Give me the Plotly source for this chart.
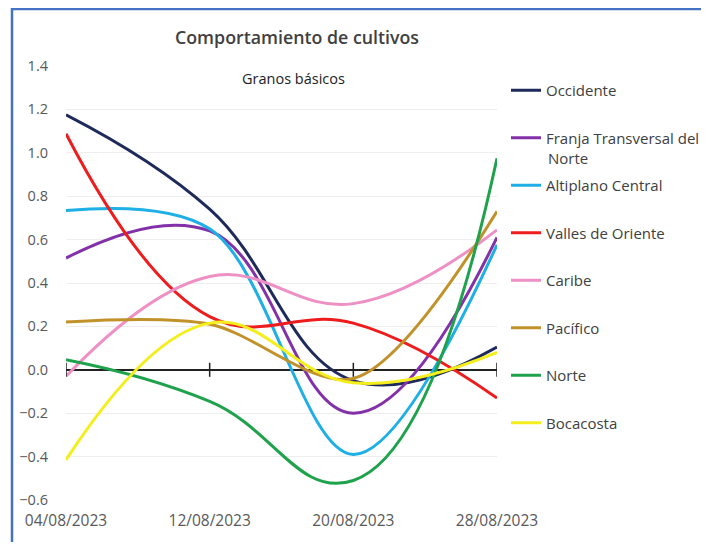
import plotly.graph_objects as go

dates = ["04/08/2023", "12/08/2023", "20/08/2023", "28/08/2023"]

occidente = [1.175, 0.74, -0.05, 0.105]
franja = [0.515, 0.64, -0.20, 0.61]
altiplano = [0.734, 0.65, -0.39, 0.576]
valles = [1.088, 0.245, 0.215, -0.13]
caribe = [-0.03, 0.43, 0.305, 0.645]
pacifico = [0.22, 0.21, -0.04, 0.73]
norte = [0.046, -0.146, -0.51, 0.975]
bocacosta = [-0.415, 0.215, -0.06, 0.08]

series_names = ["Occidente", "Franja Transversal del", "Altiplano Central",
                "Valles de Oriente", "Caribe", "Pacífico", "Norte", "Bocacosta"]
series_values = [occidente, franja, altiplano, valles, caribe, pacifico, norte, bocacosta]
colors = ["#1E2A5A", "#8331A8", "#1DAFE5", "#EE1C1C", "#EE90C4", "#C2922A", "#1FA24C", "#F4EE1C"]
smooth = [1.2, 1.2, 1.0, 1.2, 1.2, 0.9, 1.3, 1.2]

y_ticks = [-0.6, -0.4, -0.2, 0.0, 0.2, 0.4, 0.6, 0.8, 1.0, 1.2, 1.4]

# the page shows the figure offset by the body margin (8px on every side)
OFF = 8
W, H = 709 - 2 * OFF, 550 - 2 * OFF
# plot area in reference pixels
X0, X1, Y0, Y1 = 66, 497, 66, 500
L, R, T, B = X0 - OFF, (W + OFF) - X1, Y0 - OFF, (H + OFF) - Y1
pw, ph = X1 - X0, Y1 - Y0


def px(xp):
    return (xp - X0) / pw


def py(yp):
    return (Y1 - yp) / ph


fig = go.Figure()
for i, (name, vals, col, sm) in enumerate(zip(series_names, series_values, colors, smooth)):
    fig.add_trace(go.Scatter(
        x=dates, y=vals, name=name, mode="lines",
        line=dict(color=col, width=3, shape="spline", smoothing=sm),
        legendgroup=f"g{i}",
    ))

# axis tick marks crossing the zero line
fig.add_trace(go.Scatter(
    x=dates, y=[0] * len(dates), mode="markers", showlegend=False, hoverinfo="skip",
    marker=dict(symbol="line-ns-open", size=10, color="#222222",
                line=dict(color="#222222", width=1.5)),
))

fig.update_layout(
    width=W, height=H,
    margin=dict(l=L, r=R, t=T, b=B, pad=0, autoexpand=False),
    paper_bgcolor="white", plot_bgcolor="white",
    font=dict(family="Open Sans, Liberation Sans, sans-serif", color="#595959", size=14),
    title=dict(text="Comportamiento de cultivos", x=(297 - OFF) / W, xanchor="center",
               y=1 - (38 - OFF) / H, yanchor="middle", yref="container",
               font=dict(size=17.8, color="#404040", weight=600)),
    xaxis=dict(type="category", range=[0, 3], showgrid=False, showline=False,
               zeroline=False, ticks="", ticklabelstandoff=9,
               tickfont=dict(size=15.5, color="#595959")),
    yaxis=dict(range=[-0.6, 1.4], tickvals=y_ticks, tickformat=".1f",
               showgrid=True, gridcolor="#EEEEEE", gridwidth=1,
               zeroline=True, zerolinecolor="#222222", zerolinewidth=1.5,
               showline=False, ticks="", ticklabelstandoff=17,
               tickfont=dict(size=14.5, color="#595959")),
    legend=dict(x=px(506), y=py(74), xanchor="left", yanchor="top",
                tracegroupgap=25, itemwidth=30,
                font=dict(size=15, color="#404040"), bgcolor="rgba(0,0,0,0)"),
    showlegend=True,
    annotations=[
        dict(text="Granos básicos", x=px(293), y=py(78), xref="paper", yref="paper",
             showarrow=False, font=dict(size=14.5, color="#222222"),
             xanchor="center", yanchor="middle"),
        dict(text="Norte", x=px(546), y=py(158), xref="paper", yref="paper",
             showarrow=False, font=dict(size=15, color="#404040"),
             xanchor="left", yanchor="middle"),
    ],
    shapes=[
        dict(type="line", xref="paper", yref="paper", x0=px(11), x1=px(W + OFF), y0=py(9), y1=py(9),
             line=dict(color="#4472C4", width=2.5)),
        dict(type="line", xref="paper", yref="paper", x0=px(12), x1=px(12), y0=py(8), y1=py(H + OFF),
             line=dict(color="#4472C4", width=2.5)),
    ],
)

fig.write_html("out.html", config={"displayModeBar": False})
